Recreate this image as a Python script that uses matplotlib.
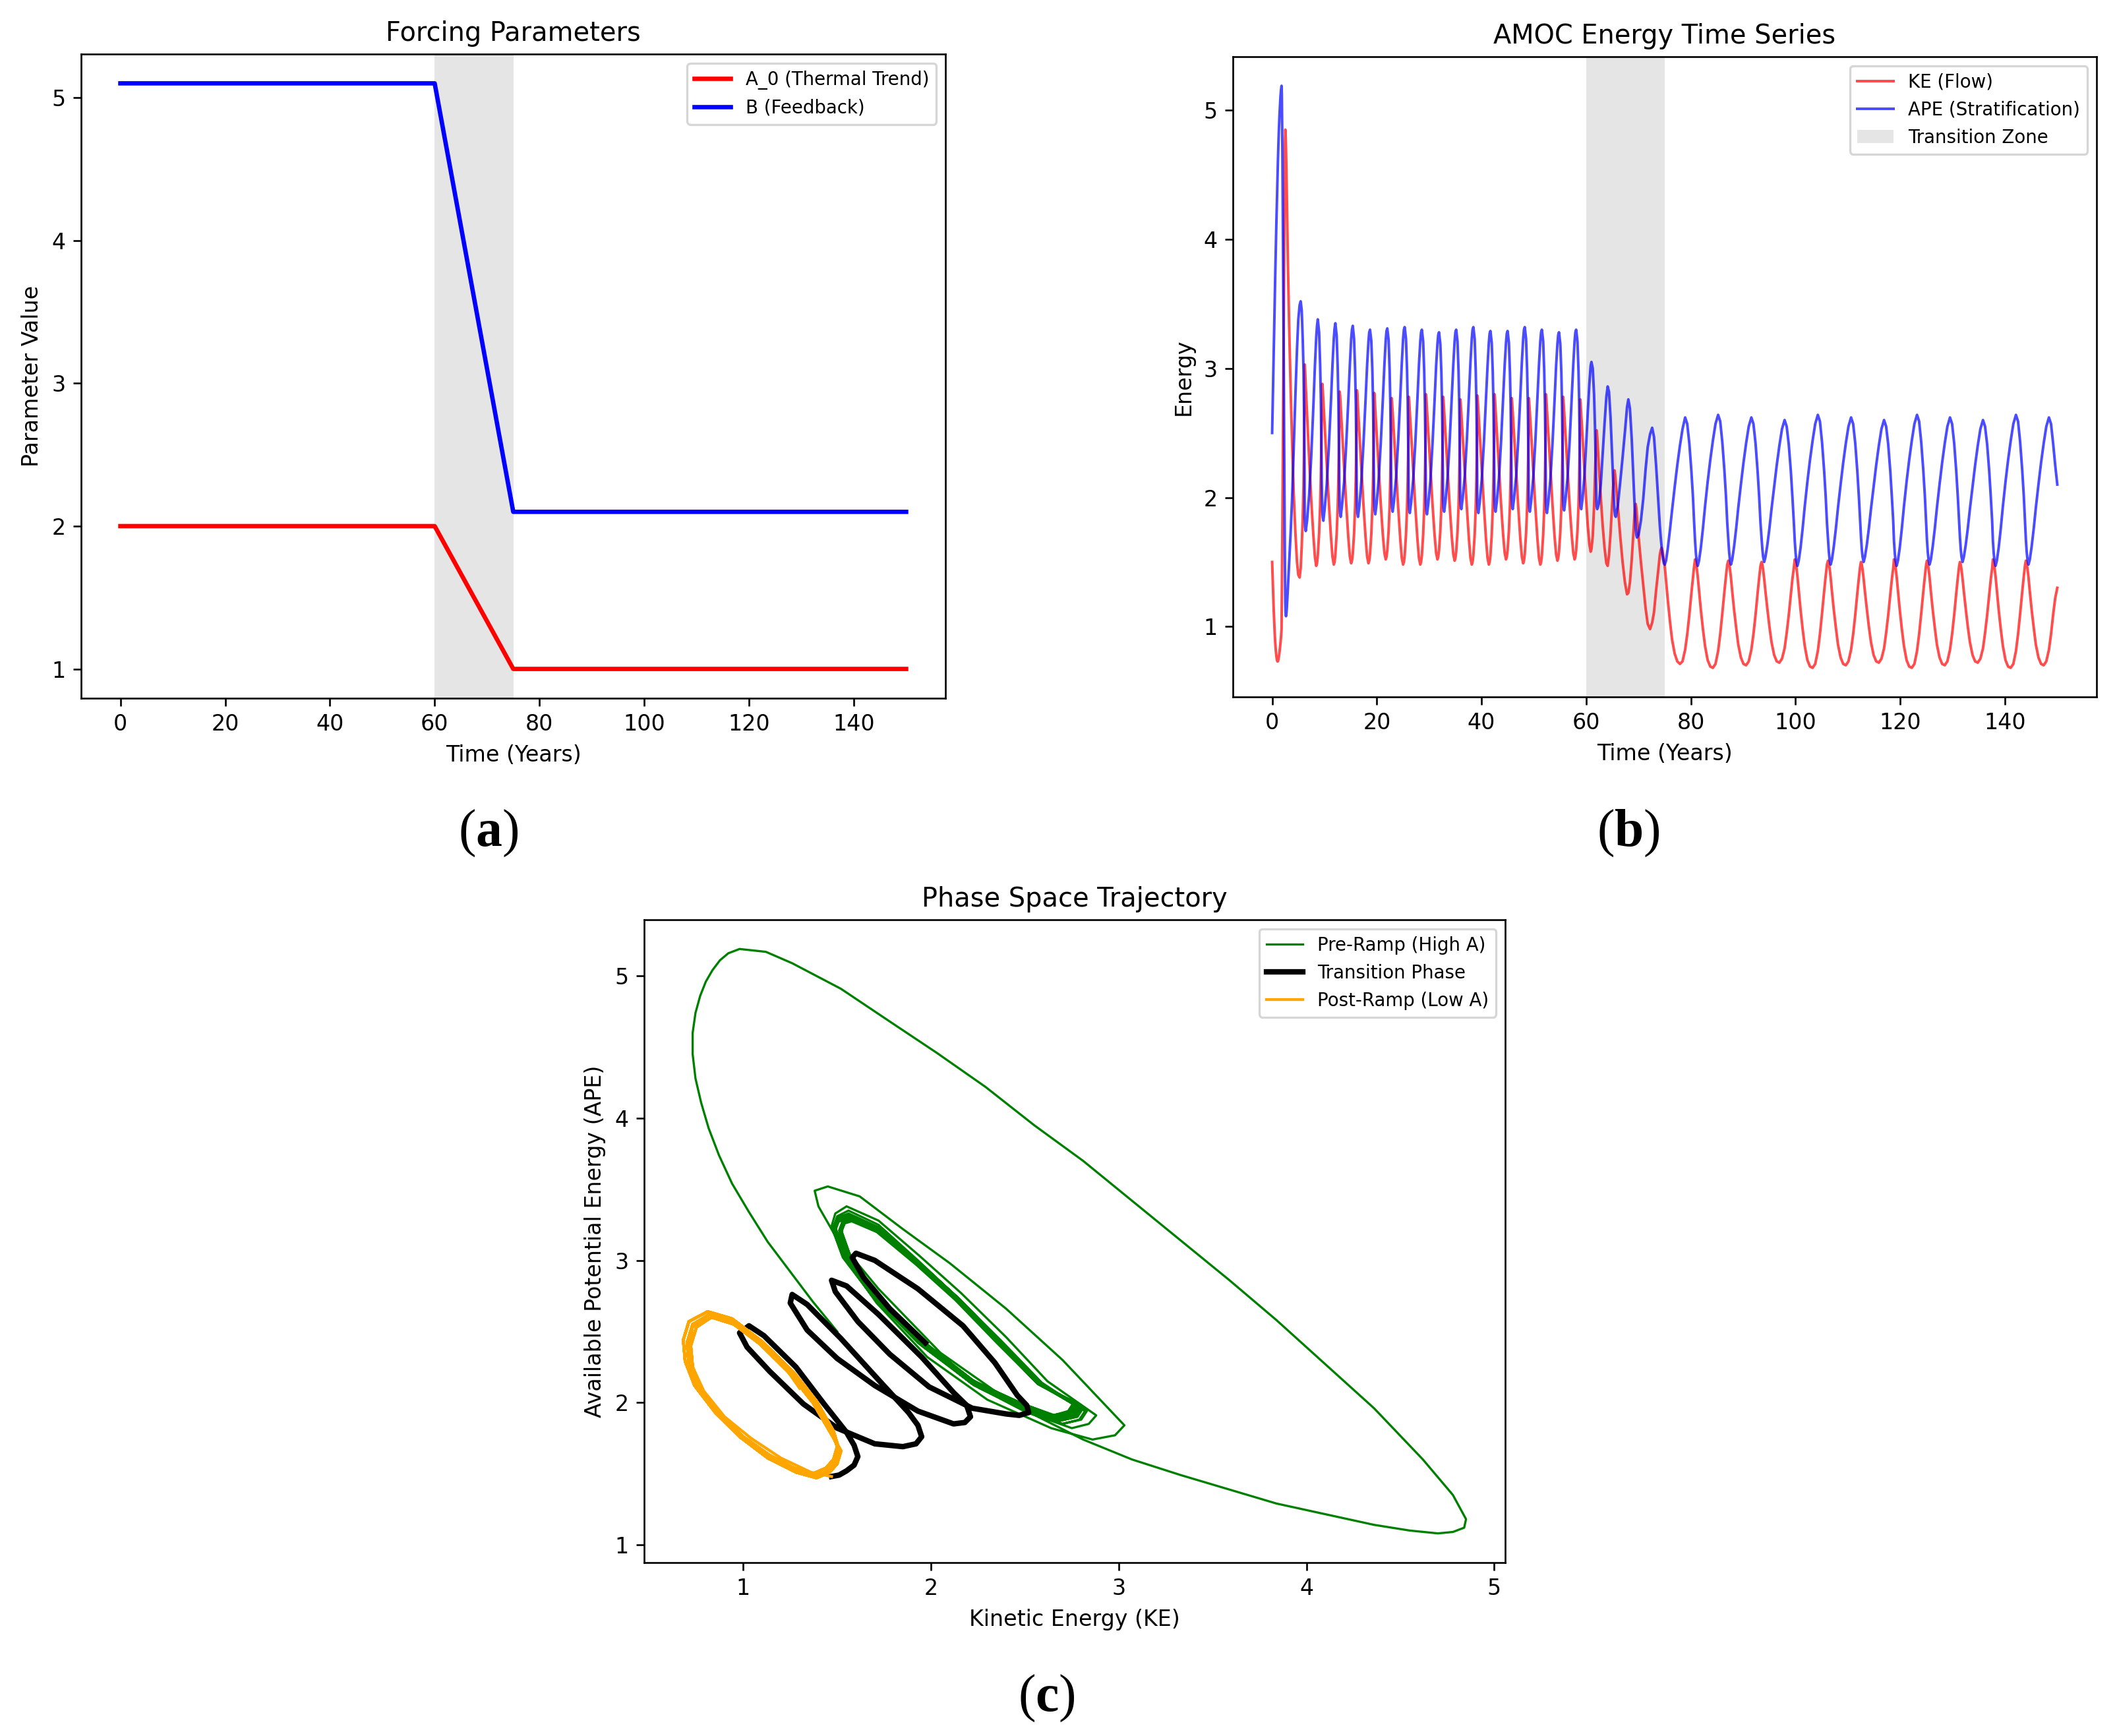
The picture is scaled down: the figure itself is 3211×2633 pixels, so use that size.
import numpy as np
import matplotlib
matplotlib.use("Agg")
import matplotlib.pyplot as plt

# ---------------- Panel (a): forcing parameters ----------------
t_forcing = [0, 60, 75, 150]
a0_forcing = [2.0, 2.0, 1.0, 1.0]
b_forcing = [5.1, 5.1, 2.1, 2.1]
ramp_start, ramp_end = 60, 75

# ---------------- Panel (b)/(c): energy time series ----------------
# spin-up transient
t_spinup = [0.0, 0.1, 0.2, 0.3, 0.4, 0.5, 0.6, 0.7, 0.8, 0.9,
            1.0, 1.1, 1.2, 1.3, 1.4, 1.5, 1.6, 1.7, 1.8,
            1.83, 1.86, 1.91, 1.96, 2.0, 2.04, 2.08, 2.12, 2.16, 2.2,
            2.24, 2.28, 2.32, 2.37, 2.42, 2.47, 2.52, 2.56, 2.6, 2.65,
            2.72, 2.8, 3.0, 3.25, 3.4, 3.55, 3.8, 4.1, 4.45, 4.75,
            5.0, 5.25, 5.45, 5.65, 5.85, 6.0, 6.1, 6.17]
ke_spinup = [1.50, 1.37, 1.25, 1.13, 1.03, 0.94, 0.87, 0.815, 0.775, 0.745,
             0.73, 0.73, 0.745, 0.77, 0.80, 0.835, 0.875, 0.92, 0.98,
             1.12, 1.26, 1.52, 1.78, 2.03, 2.29, 2.55, 2.81, 3.07, 3.33,
             3.59, 3.84, 4.10, 4.36, 4.62, 4.78, 4.85, 4.84, 4.78, 4.70,
             4.55, 4.36, 3.84, 3.33, 3.07, 2.81, 2.45, 2.05, 1.72, 1.50,
             1.40, 1.38, 1.45, 1.62, 1.85, 2.10, 2.40, 2.70]
ape_spinup = [2.50, 2.71, 2.92, 3.13, 3.34, 3.54, 3.74, 3.93, 4.11, 4.28,
              4.45, 4.60, 4.74, 4.86, 4.96, 5.04, 5.11, 5.16, 5.19,
              5.17, 5.09, 4.91, 4.68, 4.46, 4.22, 3.95, 3.70, 3.42, 3.14,
              2.86, 2.58, 2.27, 1.96, 1.60, 1.35, 1.18, 1.12, 1.09, 1.08,
              1.10, 1.14, 1.29, 1.49, 1.60, 1.74, 1.98, 2.35, 2.80, 3.15,
              3.38, 3.49, 3.52, 3.45, 3.22, 2.98, 2.66, 2.30]

# pre-ramp oscillation (high A)
t_pre = [
    6.22, 6.30, 6.42, 6.67, 7.07, 7.47, 7.87, 8.17, 8.42, 8.57, 8.72, 8.97, 9.17, 9.30, 9.39, 9.46,
    9.58, 9.66, 9.78, 10.03, 10.43, 10.83, 11.23, 11.53, 11.78, 11.93, 12.08, 12.33, 12.53, 12.66, 12.75, 12.82,
    12.90, 12.98, 13.10, 13.35, 13.75, 14.15, 14.55, 14.85, 15.10, 15.25, 15.40, 15.65, 15.85, 15.98, 16.07, 16.14,
    16.20, 16.28, 16.40, 16.65, 17.05, 17.45, 17.85, 18.15, 18.40, 18.55, 18.70, 18.95, 19.15, 19.28, 19.37, 19.44,
    19.50, 19.58, 19.70, 19.95, 20.35, 20.75, 21.15, 21.45, 21.70, 21.85, 22.00, 22.25, 22.45, 22.58, 22.67, 22.74,
    22.82, 22.90, 23.02, 23.27, 23.67, 24.07, 24.47, 24.77, 25.02, 25.17, 25.32, 25.57, 25.77, 25.90, 25.99, 26.06,
    26.10, 26.18, 26.30, 26.55, 26.95, 27.35, 27.75, 28.05, 28.30, 28.45, 28.60, 28.85, 29.05, 29.18, 29.27, 29.34,
    29.38, 29.46, 29.58, 29.83, 30.23, 30.63, 31.03, 31.33, 31.58, 31.73, 31.88, 32.13, 32.33, 32.46, 32.55, 32.62,
    32.66, 32.74, 32.86, 33.11, 33.51, 33.91, 34.31, 34.61, 34.86, 35.01, 35.16, 35.41, 35.61, 35.74, 35.83, 35.90,
    35.94, 36.02, 36.14, 36.39, 36.79, 37.19, 37.59, 37.89, 38.14, 38.29, 38.44, 38.69, 38.89, 39.02, 39.11, 39.17,
    39.20, 39.28, 39.40, 39.65, 40.05, 40.45, 40.85, 41.15, 41.40, 41.55, 41.70, 41.95, 42.15, 42.28, 42.37, 42.44,
    42.48, 42.56, 42.68, 42.93, 43.33, 43.73, 44.13, 44.43, 44.68, 44.83, 44.98, 45.23, 45.43, 45.56, 45.65, 45.72,
    45.76, 45.84, 45.96, 46.21, 46.61, 47.01, 47.41, 47.71, 47.96, 48.11, 48.26, 48.51, 48.71, 48.84, 48.93, 48.99,
    49.03, 49.11, 49.23, 49.48, 49.88, 50.28, 50.68, 50.98, 51.23, 51.38, 51.53, 51.78, 51.98, 52.11, 52.20, 52.26,
    52.30, 52.38, 52.50, 52.75, 53.15, 53.55, 53.95, 54.25, 54.50, 54.65, 54.80, 55.05, 55.25, 55.38, 55.47, 55.54,
    55.58, 55.66, 55.78, 56.03, 56.43, 56.83, 57.23, 57.53, 57.78, 57.93, 58.08, 58.33, 58.53, 58.66, 58.75, 58.81,
]
ke_pre = [
    3.03, 2.98, 2.86, 2.64, 2.30, 1.98, 1.71, 1.54, 1.47, 1.49, 1.55, 1.72, 1.94, 2.16, 2.40, 2.62,
    2.88, 2.84, 2.75, 2.56, 2.26, 1.96, 1.70, 1.54, 1.48, 1.50, 1.56, 1.72, 1.93, 2.14, 2.37, 2.59,
    2.82, 2.79, 2.70, 2.52, 2.23, 1.95, 1.69, 1.54, 1.49, 1.51, 1.56, 1.72, 1.93, 2.14, 2.36, 2.58,
    2.83, 2.80, 2.70, 2.51, 2.22, 1.94, 1.69, 1.54, 1.49, 1.51, 1.56, 1.72, 1.93, 2.14, 2.36, 2.58,
    2.81, 2.78, 2.68, 2.51, 2.23, 1.95, 1.71, 1.57, 1.52, 1.54, 1.59, 1.74, 1.94, 2.15, 2.37, 2.58,
    2.77, 2.74, 2.66, 2.49, 2.21, 1.93, 1.68, 1.53, 1.48, 1.50, 1.55, 1.71, 1.92, 2.13, 2.35, 2.57,
    2.78, 2.75, 2.66, 2.49, 2.21, 1.93, 1.68, 1.53, 1.48, 1.50, 1.55, 1.71, 1.92, 2.13, 2.35, 2.57,
    2.80, 2.77, 2.68, 2.51, 2.23, 1.95, 1.71, 1.57, 1.52, 1.54, 1.59, 1.74, 1.94, 2.15, 2.37, 2.58,
    2.78, 2.75, 2.67, 2.50, 2.22, 1.94, 1.70, 1.56, 1.51, 1.53, 1.58, 1.73, 1.93, 2.14, 2.36, 2.58,
    2.76, 2.73, 2.65, 2.49, 2.21, 1.93, 1.68, 1.53, 1.48, 1.50, 1.55, 1.71, 1.92, 2.13, 2.35, 2.57,
    2.79, 2.76, 2.67, 2.50, 2.22, 1.94, 1.68, 1.53, 1.48, 1.50, 1.55, 1.71, 1.92, 2.13, 2.35, 2.57,
    2.80, 2.77, 2.68, 2.51, 2.23, 1.95, 1.71, 1.57, 1.52, 1.54, 1.59, 1.74, 1.94, 2.15, 2.37, 2.58,
    2.77, 2.74, 2.66, 2.49, 2.21, 1.93, 1.68, 1.54, 1.49, 1.51, 1.56, 1.72, 1.92, 2.13, 2.35, 2.57,
    2.77, 2.74, 2.66, 2.49, 2.21, 1.93, 1.68, 1.53, 1.48, 1.50, 1.55, 1.71, 1.92, 2.13, 2.35, 2.57,
    2.80, 2.77, 2.68, 2.51, 2.23, 1.95, 1.70, 1.56, 1.51, 1.53, 1.58, 1.73, 1.93, 2.14, 2.36, 2.58,
    2.78, 2.75, 2.67, 2.50, 2.22, 1.94, 1.71, 1.57, 1.52, 1.54, 1.59, 1.74, 1.94, 2.15, 2.37, 2.58,
]
ape_pre = [
    1.84, 1.77, 1.74, 1.82, 2.02, 2.32, 2.70, 3.02, 3.24, 3.33, 3.38, 3.28, 3.03, 2.77, 2.46, 2.15,
    1.91, 1.85, 1.82, 1.91, 2.10, 2.39, 2.74, 3.03, 3.23, 3.31, 3.35, 3.25, 3.00, 2.74, 2.44, 2.14,
    1.94, 1.88, 1.85, 1.94, 2.12, 2.41, 2.75, 3.03, 3.23, 3.30, 3.33, 3.23, 2.99, 2.73, 2.43, 2.13,
    1.94, 1.88, 1.85, 1.93, 2.13, 2.42, 2.76, 3.03, 3.21, 3.28, 3.30, 3.21, 2.98, 2.73, 2.43, 2.13,
    1.96, 1.90, 1.87, 1.95, 2.14, 2.42, 2.76, 3.03, 3.22, 3.29, 3.31, 3.22, 2.98, 2.73, 2.43, 2.13,
    1.98, 1.92, 1.89, 1.97, 2.15, 2.43, 2.77, 3.04, 3.23, 3.30, 3.32, 3.23, 2.99, 2.74, 2.44, 2.14,
    1.97, 1.91, 1.88, 1.96, 2.14, 2.42, 2.76, 3.03, 3.21, 3.28, 3.30, 3.21, 2.98, 2.73, 2.43, 2.13,
    1.96, 1.90, 1.87, 1.95, 2.13, 2.41, 2.75, 3.02, 3.19, 3.26, 3.28, 3.19, 2.97, 2.72, 2.42, 2.13,
    1.98, 1.92, 1.89, 1.97, 2.15, 2.43, 2.77, 3.03, 3.21, 3.28, 3.30, 3.21, 2.98, 2.73, 2.43, 2.13,
    2.00, 1.94, 1.91, 1.99, 2.16, 2.44, 2.78, 3.05, 3.23, 3.30, 3.32, 3.23, 2.99, 2.74, 2.44, 2.14,
    1.97, 1.91, 1.88, 1.96, 2.14, 2.42, 2.76, 3.02, 3.20, 3.27, 3.29, 3.20, 2.97, 2.72, 2.42, 2.13,
    1.98, 1.92, 1.89, 1.97, 2.15, 2.43, 2.77, 3.03, 3.20, 3.27, 3.29, 3.20, 2.97, 2.72, 2.43, 2.13,
    2.00, 1.94, 1.91, 1.99, 2.16, 2.44, 2.78, 3.05, 3.23, 3.30, 3.32, 3.23, 2.99, 2.74, 2.44, 2.14,
    1.98, 1.92, 1.89, 1.97, 2.15, 2.43, 2.77, 3.03, 3.21, 3.28, 3.30, 3.21, 2.98, 2.73, 2.43, 2.13,
    1.97, 1.91, 1.88, 1.96, 2.14, 2.41, 2.75, 3.02, 3.19, 3.26, 3.28, 3.19, 2.97, 2.72, 2.42, 2.13,
    1.99, 1.93, 1.90, 1.98, 2.15, 2.43, 2.77, 3.03, 3.21, 3.28, 3.30, 3.21, 2.98, 2.73, 2.43, 2.14,
]

# transition (ramp) cycles
t_trans = [
    58.85, 58.93, 59.05, 59.30, 59.65, 60.00, 60.30, 60.60, 60.85, 61.00, 61.25, 61.50, 61.68, 61.80, 61.90, 61.95,
    62.00, 62.10, 62.20, 62.45, 62.80, 63.15, 63.50, 63.85, 64.10, 64.35, 64.65, 64.95, 65.20, 65.30,
    65.40, 65.52, 65.65, 66.05, 66.50, 66.95, 67.40, 67.80, 68.05, 68.35, 68.70, 69.00, 69.25, 69.35,
    69.45, 69.57, 69.70, 70.00, 70.45, 70.90, 71.35, 71.75, 72.20, 72.60, 72.95, 73.35, 73.75, 74.05, 74.22,
]
ke_trans = [
    2.76, 2.73, 2.64, 2.47, 2.22, 1.97, 1.78, 1.64, 1.58, 1.60, 1.70, 1.93, 2.17, 2.34, 2.46, 2.51,
    2.52, 2.47, 2.40, 2.22, 1.99, 1.78, 1.61, 1.49, 1.47, 1.55, 1.72, 1.95, 2.12, 2.19,
    2.21, 2.18, 2.12, 1.93, 1.70, 1.50, 1.34, 1.25, 1.26, 1.34, 1.52, 1.72, 1.88, 1.93,
    1.95, 1.92, 1.85, 1.70, 1.50, 1.32, 1.14, 1.02, 0.98, 1.03, 1.11, 1.28, 1.43, 1.55, 1.59,
]
ape_trans = [
    1.99, 1.93, 1.91, 1.99, 2.16, 2.42, 2.66, 2.88, 3.02, 3.05, 3.00, 2.80, 2.54, 2.28, 2.05, 1.98,
    1.93, 1.91, 1.92, 1.96, 2.11, 2.34, 2.57, 2.78, 2.86, 2.82, 2.62, 2.32, 2.07, 1.98,
    1.90, 1.86, 1.85, 1.94, 2.12, 2.31, 2.51, 2.70, 2.76, 2.69, 2.45, 2.16, 1.93, 1.84,
    1.76, 1.71, 1.69, 1.71, 1.82, 1.99, 2.22, 2.39, 2.49, 2.54, 2.47, 2.25, 1.99, 1.79, 1.70,
]

# post-ramp oscillation (low A)
t_post = [
    74.40, 74.55, 74.70, 74.85, 75.00, 75.25, 75.60, 76.00, 76.40, 76.90, 77.40, 77.90, 78.40, 78.90, 79.30, 79.70, 80.10, 80.40, 80.60,
    80.80, 80.95, 81.10, 81.30, 81.55, 81.90, 82.30, 82.70, 83.20, 83.70, 84.20, 84.70, 85.20, 85.60, 86.00, 86.40, 86.70, 86.95,
    87.15, 87.30, 87.45, 87.65, 87.90, 88.25, 88.65, 89.05, 89.55, 90.05, 90.55, 91.05, 91.55, 91.95, 92.35, 92.75, 93.05, 93.30,
    93.50, 93.65, 93.80, 94.00, 94.25, 94.60, 95.00, 95.40, 95.90, 96.40, 96.90, 97.40, 97.90, 98.30, 98.70, 99.10, 99.40, 99.65,
    99.85, 100.00, 100.15, 100.35, 100.60, 100.95, 101.35, 101.75, 102.25, 102.75, 103.25, 103.75, 104.25, 104.65, 105.05, 105.45, 105.75, 106.00,
    106.20, 106.35, 106.50, 106.70, 106.95, 107.30, 107.70, 108.10, 108.60, 109.10, 109.60, 110.10, 110.60, 111.00, 111.40, 111.80, 112.10, 112.35,
    112.50, 112.65, 112.80, 113.00, 113.25, 113.60, 114.00, 114.40, 114.90, 115.40, 115.90, 116.40, 116.90, 117.30, 117.70, 118.10, 118.40, 118.65,
    118.80, 118.95, 119.10, 119.30, 119.55, 119.90, 120.30, 120.70, 121.20, 121.70, 122.20, 122.70, 123.20, 123.60, 124.00, 124.40, 124.70, 124.95,
    125.10, 125.25, 125.40, 125.60, 125.85, 126.20, 126.60, 127.00, 127.50, 128.00, 128.50, 129.00, 129.50, 129.90, 130.30, 130.70, 131.00, 131.25,
    131.40, 131.55, 131.70, 131.90, 132.15, 132.50, 132.90, 133.30, 133.80, 134.30, 134.80, 135.30, 135.80, 136.20, 136.60, 137.00, 137.30, 137.55,
    137.70, 137.85, 138.00, 138.20, 138.45, 138.80, 139.20, 139.60, 140.10, 140.60, 141.10, 141.60, 142.10, 142.50, 142.90, 143.30, 143.60, 143.85,
    144.00, 144.15, 144.30, 144.50, 144.75, 145.10, 145.50, 145.90, 146.40, 146.90, 147.40, 147.90, 148.40, 148.80, 149.20, 149.60, 150.00,
]
ke_post = [
    1.61, 1.59, 1.55, 1.51, 1.47, 1.36, 1.20, 1.04, 0.90, 0.79, 0.73, 0.71, 0.73, 0.82, 0.94, 1.09, 1.26, 1.38, 1.46,
    1.52, 1.50, 1.46, 1.39, 1.28, 1.13, 0.98, 0.85, 0.74, 0.69, 0.68, 0.71, 0.81, 0.94, 1.10, 1.27, 1.39, 1.48,
    1.51, 1.49, 1.45, 1.38, 1.27, 1.13, 0.99, 0.86, 0.76, 0.71, 0.70, 0.73, 0.82, 0.94, 1.09, 1.26, 1.38, 1.47,
    1.50, 1.48, 1.44, 1.37, 1.27, 1.14, 1.00, 0.88, 0.78, 0.73, 0.72, 0.75, 0.83, 0.95, 1.09, 1.25, 1.37, 1.45,
    1.52, 1.50, 1.46, 1.39, 1.28, 1.13, 0.98, 0.85, 0.74, 0.69, 0.68, 0.71, 0.81, 0.94, 1.10, 1.27, 1.39, 1.48,
    1.51, 1.49, 1.45, 1.38, 1.27, 1.13, 0.99, 0.86, 0.76, 0.71, 0.70, 0.73, 0.82, 0.94, 1.09, 1.26, 1.38, 1.47,
    1.50, 1.48, 1.44, 1.37, 1.27, 1.14, 1.00, 0.88, 0.78, 0.73, 0.72, 0.75, 0.83, 0.95, 1.09, 1.25, 1.37, 1.45,
    1.52, 1.50, 1.46, 1.39, 1.28, 1.13, 0.98, 0.85, 0.74, 0.69, 0.68, 0.71, 0.81, 0.94, 1.10, 1.27, 1.39, 1.48,
    1.51, 1.49, 1.45, 1.38, 1.27, 1.13, 0.99, 0.86, 0.76, 0.71, 0.70, 0.73, 0.82, 0.94, 1.09, 1.26, 1.38, 1.47,
    1.50, 1.48, 1.44, 1.37, 1.27, 1.14, 1.00, 0.88, 0.78, 0.73, 0.72, 0.75, 0.83, 0.95, 1.09, 1.25, 1.37, 1.45,
    1.52, 1.50, 1.46, 1.39, 1.28, 1.13, 0.98, 0.85, 0.74, 0.69, 0.68, 0.71, 0.81, 0.94, 1.10, 1.27, 1.39, 1.48,
    1.51, 1.49, 1.45, 1.38, 1.27, 1.13, 0.99, 0.86, 0.76, 0.71, 0.70, 0.73, 0.82, 0.94, 1.09, 1.22, 1.30,
]
ape_post = [
    1.62, 1.56, 1.52, 1.49, 1.48, 1.51, 1.61, 1.75, 1.90, 2.08, 2.25, 2.40, 2.53, 2.62, 2.57, 2.42, 2.20, 2.00, 1.82,
    1.66, 1.57, 1.51, 1.47, 1.51, 1.61, 1.76, 1.93, 2.12, 2.29, 2.44, 2.57, 2.64, 2.59, 2.43, 2.21, 2.01, 1.80,
    1.67, 1.58, 1.52, 1.48, 1.52, 1.62, 1.76, 1.92, 2.10, 2.27, 2.42, 2.55, 2.62, 2.57, 2.42, 2.20, 2.00, 1.80,
    1.69, 1.60, 1.54, 1.50, 1.54, 1.63, 1.76, 1.91, 2.08, 2.25, 2.40, 2.53, 2.60, 2.55, 2.41, 2.20, 2.00, 1.82,
    1.66, 1.57, 1.51, 1.47, 1.51, 1.61, 1.76, 1.93, 2.12, 2.29, 2.44, 2.57, 2.64, 2.59, 2.43, 2.21, 2.01, 1.80,
    1.67, 1.58, 1.52, 1.48, 1.52, 1.62, 1.76, 1.92, 2.10, 2.27, 2.42, 2.55, 2.62, 2.57, 2.42, 2.20, 2.00, 1.80,
    1.69, 1.60, 1.54, 1.50, 1.54, 1.63, 1.76, 1.91, 2.08, 2.25, 2.40, 2.53, 2.60, 2.55, 2.41, 2.20, 2.00, 1.82,
    1.66, 1.57, 1.51, 1.47, 1.51, 1.61, 1.76, 1.93, 2.12, 2.29, 2.44, 2.57, 2.64, 2.59, 2.43, 2.21, 2.01, 1.80,
    1.67, 1.58, 1.52, 1.48, 1.52, 1.62, 1.76, 1.92, 2.10, 2.27, 2.42, 2.55, 2.62, 2.57, 2.42, 2.20, 2.00, 1.80,
    1.69, 1.60, 1.54, 1.50, 1.54, 1.63, 1.76, 1.91, 2.08, 2.25, 2.40, 2.53, 2.60, 2.55, 2.41, 2.20, 2.00, 1.82,
    1.66, 1.57, 1.51, 1.47, 1.51, 1.61, 1.76, 1.93, 2.12, 2.29, 2.44, 2.57, 2.64, 2.59, 2.43, 2.21, 2.01, 1.80,
    1.67, 1.58, 1.52, 1.48, 1.52, 1.62, 1.76, 1.92, 2.10, 2.27, 2.42, 2.55, 2.62, 2.57, 2.42, 2.25, 2.10,
]

# ---------------- assemble ----------------
t_all = np.concatenate([t_spinup, t_pre, t_trans, t_post])
ke_all = np.concatenate([ke_spinup, ke_pre, ke_trans, ke_post])
ape_all = np.concatenate([ape_spinup, ape_pre, ape_trans, ape_post])

DPI = 239
fig = plt.figure(figsize=(3211 / DPI, 2633 / DPI), dpi=DPI)
W, H = 3211.0, 2633.0

def box(l, t, r, b):
    return [l / W, 1 - b / H, (r - l) / W, (b - t) / H]

ax_a = fig.add_axes(box(123, 82, 1434, 1059))
ax_b = fig.add_axes(box(1870, 86, 3180, 1057))
ax_c = fig.add_axes(box(977, 1395, 2283, 2370))

# (a)
ax_a.plot(t_forcing, a0_forcing, color='red', lw=2, label='A_0 (Thermal Trend)')
ax_a.plot(t_forcing, b_forcing, color='blue', lw=2, label='B (Feedback)')
ax_a.axvspan(ramp_start, ramp_end, color='gray', alpha=0.2, lw=0)
ax_a.set_title('Forcing Parameters')
ax_a.set_xlabel('Time (Years)')
ax_a.set_ylabel('Parameter Value')
ax_a.legend(loc='upper right', fontsize='small')

# (b)
ax_b.plot(t_all, ke_all, color='red', alpha=0.7, lw=1.2, label='KE (Flow)')
ax_b.plot(t_all, ape_all, color='blue', alpha=0.7, lw=1.2, label='APE (Stratification)')
ax_b.axvspan(ramp_start, ramp_end, color='gray', alpha=0.2, lw=0, label='Transition Zone')
ax_b.set_title('AMOC Energy Time Series')
ax_b.set_xlabel('Time (Years)')
ax_b.set_ylabel('Energy')
ax_b.legend(loc='upper right', fontsize='small')

# (c)
pre_mask = t_all <= ramp_start
trans_mask = (t_all >= ramp_start) & (t_all <= ramp_end)
post_mask = t_all >= ramp_end
ax_c.plot(ke_all[pre_mask], ape_all[pre_mask], color='green', lw=1, label='Pre-Ramp (High A)')
ax_c.plot(ke_all[trans_mask], ape_all[trans_mask], color='black', lw=2.5, label='Transition Phase')
ax_c.plot(ke_all[post_mask], ape_all[post_mask], color='orange', lw=1.3, label='Post-Ramp (Low A)')
ax_c.set_title('Phase Space Trajectory')
ax_c.set_xlabel('Kinetic Energy (KE)')
ax_c.set_ylabel('Available Potential Energy (APE)')
ax_c.legend(loc='upper right', fontsize='small')

plt.rcParams['mathtext.fontset'] = 'custom'
plt.rcParams['mathtext.bf'] = 'Liberation Serif:bold'
plt.rcParams['mathtext.rm'] = 'Liberation Serif'
for lbl, (x, y) in zip(['a', 'b', 'c'], [(741, 1264), (2470, 1264), (1587, 2576)]):
    fig.text(x / W, 1 - y / H, r'($\mathbf{' + lbl + r'}$)', family='Liberation Serif',
             fontsize=24, ha='center', va='center')

fig.savefig('out.png', dpi=DPI)
